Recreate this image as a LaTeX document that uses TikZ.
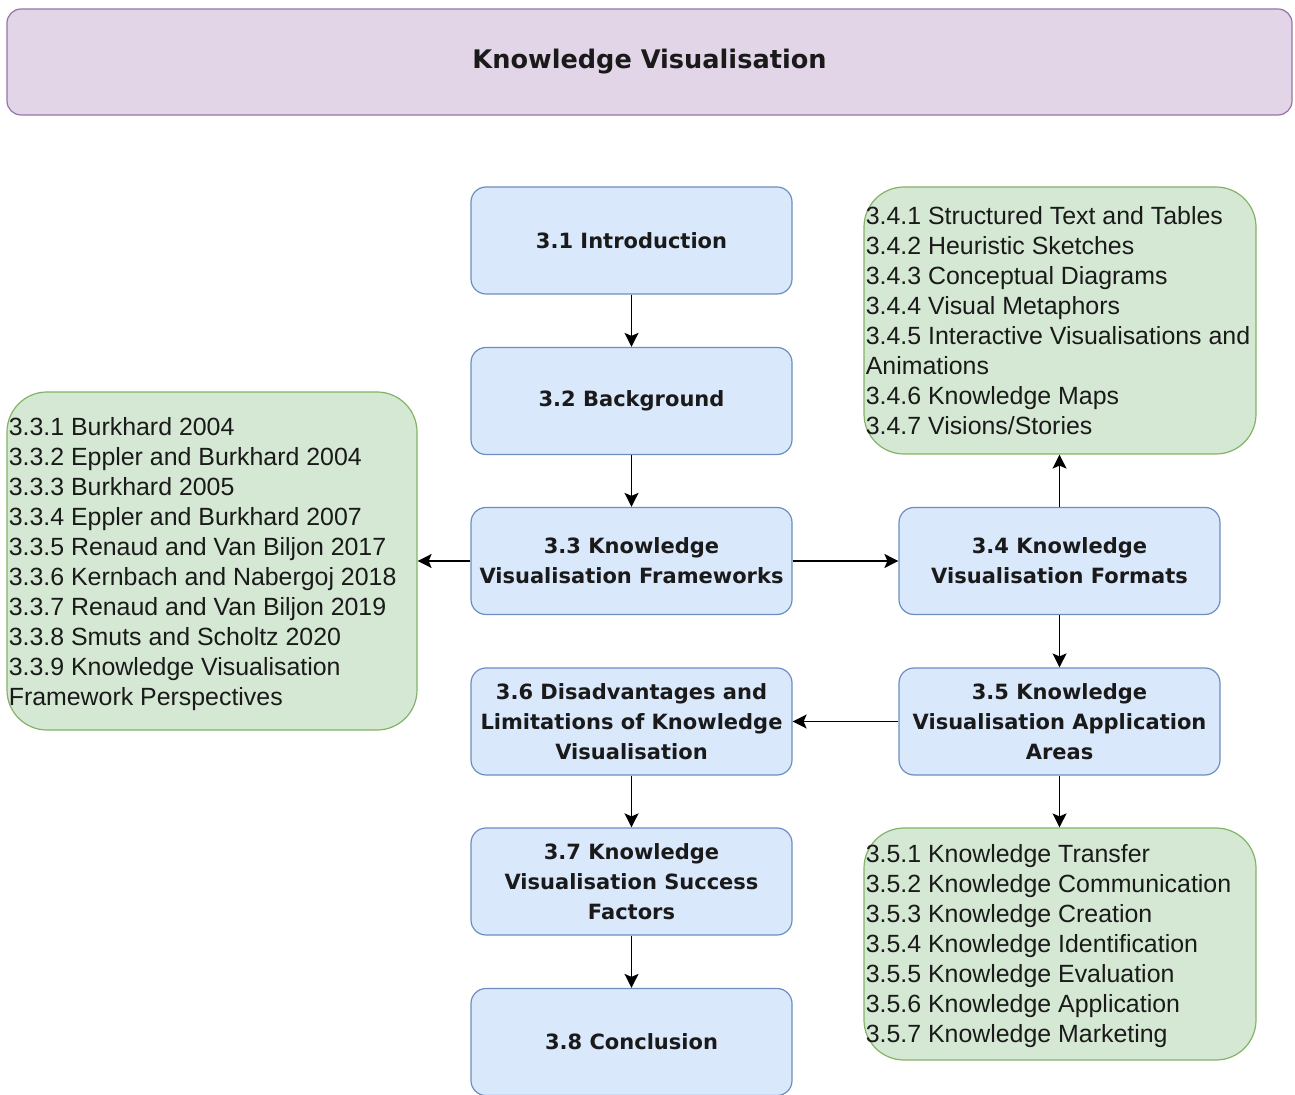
\documentclass[tikz,border=0pt]{standalone}
\usepackage{fontspec}
\setmainfont{Liberation Sans}
\newfontfamily\headfont{DejaVu Sans}
\usetikzlibrary{arrows.meta}
\definecolor{blueFill}{HTML}{DAE8FC}
\definecolor{blueLine}{HTML}{6C8EBF}
\definecolor{greenFill}{HTML}{D5E8D4}
\definecolor{greenLine}{HTML}{82B366}
\definecolor{purpleFill}{HTML}{E1D5E7}
\definecolor{purpleLine}{HTML}{9673A6}
\definecolor{ink}{HTML}{1A1A1A}
\begin{document}
\begin{tikzpicture}[x=0.5pt,y=-0.5pt,
  section/.style={draw=blueLine, fill=blueFill, line width=0.6pt, rounded corners=7.5pt,
    minimum width=160.5pt, minimum height=53.5pt, align=center, inner sep=1pt,
    text=ink, font=\headfont\bfseries\fontsize{10.5}{15}\selectfont},
  listbox/.style={draw=greenLine, fill=greenFill, line width=0.6pt, rounded corners=20pt},
  listtext/.style={anchor=west, align=left, inner sep=1pt, text=ink,
    font=\fontsize{12.45}{15}\selectfont},
  arr/.style={draw=black, line width=0.8pt, -{Stealth[length=7pt,width=7pt,inset=1.5pt]}}
]
\useasboundingbox (0,0) rectangle (1295,1095);

% chapter title
\node[draw=purpleLine, fill=purpleFill, line width=0.6pt, rounded corners=7pt,
  minimum width=642.5pt, minimum height=53pt, text=ink,
  font=\headfont\bfseries\fontsize{12.8}{15}\selectfont] (title) at (649.5,62) {Knowledge Visualisation};

% main sections
\node[section] (s1) at (631.5,240.5) {3.1 Introduction};
\node[section] (s2) at (631.5,401) {3.2 Background};
\node[section] (s3) at (631.5,561) {3.3 Knowledge\\Visualisation Frameworks};
\node[section] (s4) at (1059.5,561) {3.4 Knowledge\\Visualisation Formats};
\node[section] (s5) at (1059.5,721.5) {3.5 Knowledge\\Visualisation Application\\Areas};
\node[section] (s6) at (631.5,721.5) {3.6 Disadvantages and\\Limitations of Knowledge\\Visualisation};
\node[section] (s7) at (631.5,881.5) {3.7 Knowledge\\Visualisation Success\\Factors};
\node[section] (s8) at (631.5,1042) {3.8 Conclusion};

% subsection lists
\node[listbox, minimum width=205pt, minimum height=169pt] (frameworks) at (212,561) {};
\node[listtext] (frameworksText) at ([yshift=-1.5pt]frameworks.west) {3.3.1 Burkhard 2004\\
3.3.2 Eppler and Burkhard 2004\\
3.3.3 Burkhard 2005\\
3.3.4 Eppler and Burkhard 2007\\
3.3.5 Renaud and Van Biljon 2017\\
3.3.6 Kernbach and Nabergoj 2018\\
3.3.7 Renaud and Van Biljon 2019\\
3.3.8 Smuts and Scholtz 2020\\
3.3.9 Knowledge Visualisation\\
Framework Perspectives};

\node[listbox, minimum width=196pt, minimum height=133.5pt] (formats) at (1060,320.5) {};
\node[listtext] (formatsText) at (formats.west) {3.4.1 Structured Text and Tables\\
3.4.2 Heuristic Sketches\\
3.4.3 Conceptual Diagrams\\
3.4.4 Visual Metaphors\\
3.4.5 Interactive Visualisations and\\
Animations\\
3.4.6 Knowledge Maps\\
3.4.7 Visions/Stories};

\node[listbox, minimum width=196pt, minimum height=116pt] (areas) at (1060,944) {};
\node[listtext] (areasText) at ([yshift=-1pt]areas.west) {3.5.1 Knowledge Transfer\\
3.5.2 Knowledge Communication\\
3.5.3 Knowledge Creation\\
3.5.4 Knowledge Identification\\
3.5.5 Knowledge Evaluation\\
3.5.6 Knowledge Application\\
3.5.7 Knowledge Marketing};

% connectors
\draw[arr] (s1) -- (s2);
\draw[arr] (s2) -- (s3);
\draw[arr] (s3) -- (frameworks);
\draw[arr] (s3) -- (s4);
\draw[arr] (s4.north) -- (s4.north |- formats.south);
\draw[arr] (s4) -- (s5);
\draw[arr] (s5) -- (s6);
\draw[arr] (s5.south) -- (s5.south |- areas.north);
\draw[arr] (s6) -- (s7);
\draw[arr] (s7) -- (s8);
\end{tikzpicture}
\end{document}
